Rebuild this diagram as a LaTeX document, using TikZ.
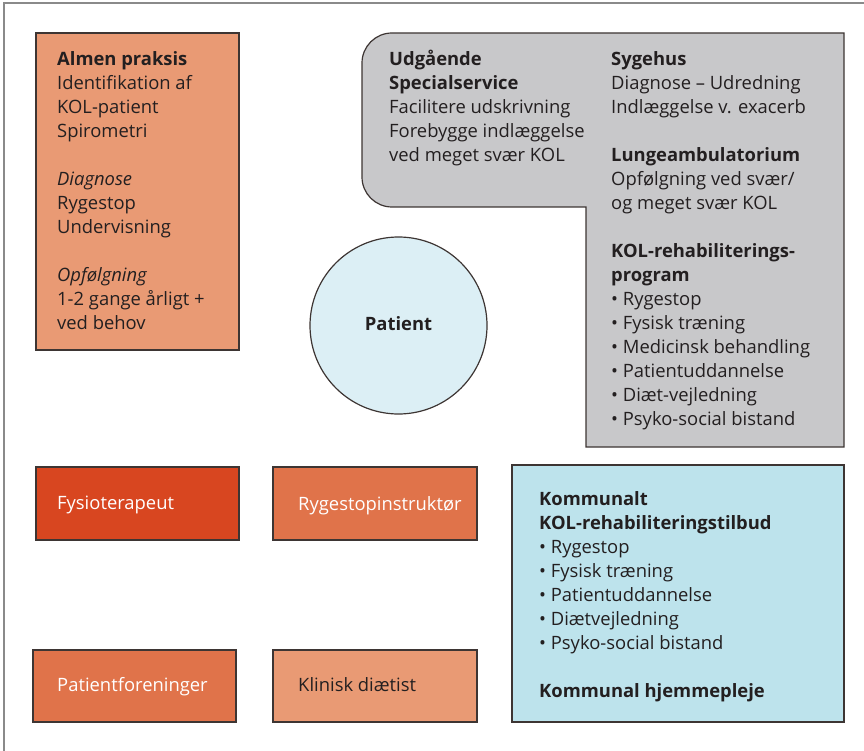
\documentclass[tikz,border=0pt]{standalone}
\usepackage{fontspec}
\setmainfont{Open Sans}
\definecolor{salmon}{HTML}{E99A74}
\definecolor{redorange}{HTML}{D84620}
\definecolor{midorange}{HTML}{E0734A}
\definecolor{greybox}{HTML}{C8C8CA}
\definecolor{patientblue}{HTML}{DCEFF5}
\definecolor{kommblue}{HTML}{BDE3EC}
\definecolor{edge}{HTML}{3D3533}
\definecolor{ink}{HTML}{231F20}
\definecolor{framegray}{HTML}{8A8A8A}
\begin{document}
\begin{tikzpicture}[x=1pt,y=1pt,
  box/.style={draw=edge, line width=1.2pt, rectangle, inner sep=0pt},
  txt/.style={anchor=north west, inner sep=0pt, align=left, text=ink, font=\fontsize{18.4}{24}\selectfont},
  lbl/.style={anchor=base west, inner sep=0pt, font=\fontsize{18.4}{24}\selectfont}
]
\useasboundingbox (0,0) rectangle (864,-751);
% frame (top and left edges)
\draw[framegray, line width=1.2pt] (4,-751) -- (4,-3) -- (864,-3);

% Almen praksis
\node[box, fill=salmon, minimum width=203pt, minimum height=317pt] (almen) at (137.5,-191.5) {};
\node[txt] (almentxt) at (57,-48.2) {\strut\textbf{Almen praksis}\\Identifikation af\\KOL-patient\\Spirometri\\[24pt]
\textit{Diagnose}\\Rygestop\\Undervisning\\[24pt]
\textit{Opfølgning}\\1-2 gange årligt +\\ved behov};

% grey L-shaped area
\draw[draw=edge, line width=1.2pt, fill=greybox] (392,-33) -- (844,-33) -- (844,-447) -- (586,-447) -- (586,-207) -- (392,-207)
  arc[start angle=270, end angle=180, radius=30pt] -- (362,-63)
  arc[start angle=180, end angle=90, radius=30pt] -- cycle;
\node[txt] (udg) at (389,-48.2) {\strut\textbf{Udgående}\\\textbf{Specialservice}\\Facilitere udskrivning\\Forebygge indlæggelse\\ved meget svær KOL};
\node[txt] (syg) at (611,-48.2) {\strut\textbf{Sygehus}\\Diagnose – Udredning\\Indlæggelse v. exacerb\\[24pt]
\textbf{Lungeambulatorium}\\Opfølgning ved svær/\\og meget svær KOL\\[24pt]
\textbf{KOL-rehabiliterings-}\\\textbf{program}\\• Rygestop\\• Fysisk træning\\• Medicinsk behandling\\• Patientuddannelse\\• Diæt-vejledning\\• Psyko-social bistand};

% Patient
\node[circle, draw=edge, line width=1.2pt, fill=patientblue, minimum size=177pt, inner sep=0pt] (patient) at (398.5,-325.5) {};
\node[anchor=base, inner sep=0pt, text=ink, font=\fontsize{18.4}{24}\selectfont\bfseries] (patienttxt) at (398.5,-330) {Patient};

% bottom boxes
\node[box, fill=redorange, minimum width=203pt, minimum height=73pt] (fysio) at (137.5,-503.5) {};
\node[lbl, text=white] (fysiotxt) at (57,-509) {Fysioterapeut};
\node[box, fill=midorange, minimum width=204pt, minimum height=73pt] (ryge) at (375,-503.5) {};
\node[lbl, text=white] (rygetxt) at (298,-510) {Rygestopinstruktør};
\node[box, fill=midorange, minimum width=203pt, minimum height=72pt] (pforen) at (134.5,-686) {};
\node[lbl, text=white] (pforentxt) at (57,-691) {Patientforeninger};
\node[box, fill=salmon, minimum width=204pt, minimum height=72pt] (klinisk) at (375,-686) {};
\node[lbl, text=ink] (klinisktxt) at (298,-691) {Klinisk diætist};

% Kommunalt
\node[box, fill=kommblue, minimum width=332pt, minimum height=257pt] (komm) at (678,-593.5) {};
\node[txt] (kommtxt) at (539,-488.2) {\strut\textbf{Kommunalt}\\\textbf{KOL-rehabiliteringstilbud}\\• Rygestop\\• Fysisk træning\\• Patientuddannelse\\• Diætvejledning\\• Psyko-social bistand\\[24pt]
\textbf{Kommunal hjemmepleje}};
\end{tikzpicture}
\end{document}
